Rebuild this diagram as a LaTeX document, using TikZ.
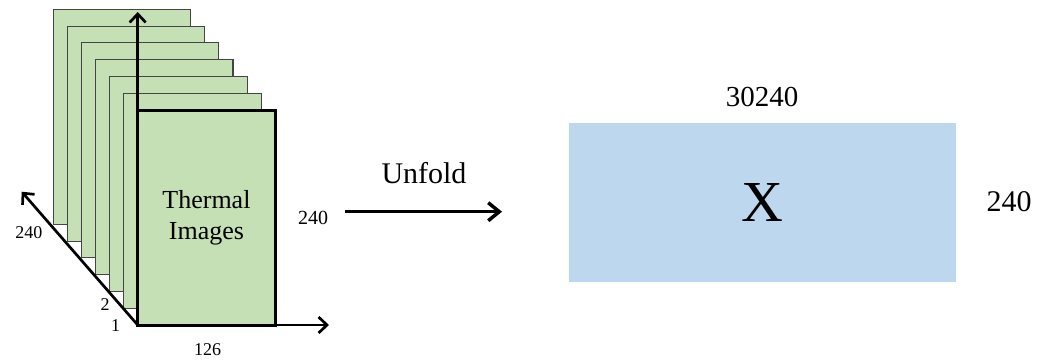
\documentclass[tikz,border=0pt]{standalone}
\usepackage{fontspec}
\setmainfont{Liberation Serif}
\usetikzlibrary{arrows.meta}
\definecolor{framegreen}{HTML}{C5E0B4}
\definecolor{matblue}{HTML}{BDD7EE}
\definecolor{frameedge}{HTML}{454545}
\tikzset{
  backframe/.style={draw=frameedge, line width=1.1pt, fill=framegreen, inner sep=0pt, outer sep=0pt,
    minimum width=137.5, minimum height=215, anchor=north west},
  frontframe/.style={draw=black, line width=3pt, fill=framegreen, inner sep=0pt, outer sep=0pt,
    minimum width=137.5, minimum height=215, anchor=north west, align=center,
    font=\fontsize{26}{31}\selectfont},
  axis/.style={line width=2.7pt, -{Straight Barb[length=8.5,width=16,line width=2.7pt]}},
  unfold/.style={line width=3.5pt, -{Straight Barb[length=11,width=18,line width=3.5pt]}},
  small/.style={font=\fontsize{18}{20}\selectfont, inner sep=0pt},
  label/.style={inner sep=0pt},
}
\begin{document}
\begin{tikzpicture}[x=1pt, y=-1pt]
  \useasboundingbox (0,0) rectangle (1049,360);
  % stack of image frames, back to front
  \foreach \i in {0,...,5} {
    \node[backframe] (f\i) at ({53.3+14.07*\i},{9.3+16.8*\i}) {};
  }
  \coordinate (o) at (137.7,325);
  \coordinate (ytip) at (137.7,12);
  \coordinate (xtip) at (329,325);
  \coordinate (ztip) at (21.7,191.7);
  % vertical axis behind the front frame
  \draw[axis] (o) -- (ytip);
  \node[frontframe] (front) at (137.7,110.1) {Thermal\\Images};
  \draw[axis] (o) -- (xtip);
  \draw[axis] (o) -- (ztip);
  % axis labels
  \node[small] (l240a) at (29,233) {240};
  \node[small] (l2) at (105,305) {2};
  \node[small] (l1) at (115.5,326) {1};
  \node[small] (l126) at (207.5,350) {126};
  \node[label, font=\fontsize{20}{22}\selectfont] (l240b) at (313,218) {240};
  % unfolding step
  \coordinate (ua) at (345,211.7);
  \coordinate (ub) at (502,211.7);
  \draw[unfold] (ua) -- (ub);
  \node[label, font=\fontsize{30}{32}\selectfont] (ulab) at (424,173) {Unfold};
  % unfolded data matrix
  \node[fill=matblue, inner sep=0pt, outer sep=0pt, minimum width=386.4, minimum height=158.4,
        anchor=north west, font=\fontsize{58}{60}\selectfont] (X) at (569.3,123.3) {X};
  \node[label, font=\fontsize{29}{31}\selectfont] (cols) at (762,96.7) {30240};
  \node[label, font=\fontsize{30}{32}\selectfont] (rows) at (1009,202) {240};
\end{tikzpicture}
\end{document}
